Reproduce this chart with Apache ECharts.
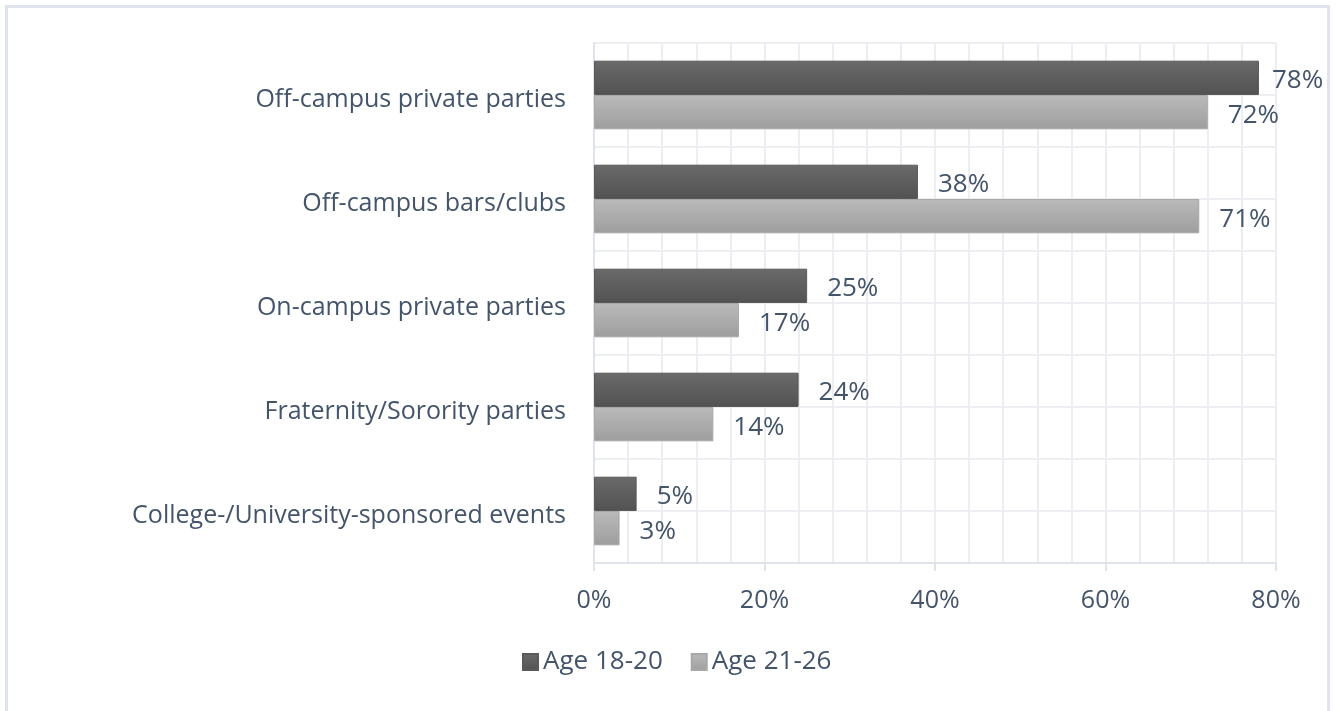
<!DOCTYPE html>
<html>
<head>
<meta charset="utf-8">
<script src="https://cdn.jsdelivr.net/npm/echarts@6/dist/echarts.min.js"></script>
<style>
html,body{margin:0;padding:0;background:#fff;}
#frame{position:absolute;left:5px;top:5px;width:1325px;height:720px;border:3px solid #dfe3ec;box-sizing:border-box;}
#chart{position:absolute;left:0;top:0;width:1336px;height:711px;}
</style>
</head>
<body>
<div id="frame"></div>
<div id="chart"></div>
<script>
const categories = [
  "Off-campus private parties",
  "Off-campus bars/clubs",
  "On-campus private parties",
  "Fraternity/Sorority parties",
  "College-/University-sponsored events"
];
const age1820 = [78, 38, 25, 24, 5];
const age2126 = [72, 71, 17, 14, 3];
const seriesNames = ["Age 18-20", "Age 21-26"];
const xTicks = [0, 20, 40, 60, 80];

const textColor = "#44546a";
const fontFamily = "'Open Sans', sans-serif";

const chart = echarts.init(document.getElementById('chart'), null, {renderer: 'canvas'});

function grad(c1, c2) {
  return new echarts.graphic.LinearGradient(0, 0, 0, 1, [
    {offset: 0, color: c1}, {offset: 1, color: c2}
  ]);
}

function makeData(arr) {
  return arr.map(v => {
    if (v >= 76) return {value: v, label: {distance: 13}};
    return v;
  });
}

chart.setOption({
  backgroundColor: 'transparent',
  animation: false,
  grid: {left: 594, right: 60, top: 43, bottom: 148, containLabel: false},
  legend: {
    top: 644,
    left: 517,
    itemWidth: 15,
    itemHeight: 16,
    itemGap: 28,
    icon: 'rect',
    textStyle: {color: textColor, fontSize: 26, fontFamily: fontFamily},
    data: seriesNames
  },
  xAxis: {
    type: 'value',
    min: xTicks[0],
    max: xTicks[xTicks.length - 1],
    interval: 20,
    axisLine: {show: true, lineStyle: {color: '#dfe3eb', width: 2}},
    axisTick: {show: true, length: 8, lineStyle: {color: '#dfe3eb', width: 2}},
    axisLabel: {formatter: '{value}%', color: textColor, fontSize: 25, fontFamily: fontFamily, margin: 25},
    splitLine: {show: true, lineStyle: {color: '#eceef2', width: 2}},
    minorTick: {show: false, splitNumber: 5},
    minorSplitLine: {show: true, lineStyle: {color: '#eceef2', width: 2}}
  },
  yAxis: [{
    type: 'category',
    data: categories,
    inverse: true,
    axisLine: {show: true, lineStyle: {color: '#dfe3eb', width: 2}},
    axisTick: {show: false},
    axisLabel: {color: textColor, fontSize: 25, fontFamily: fontFamily, margin: 28, verticalAlign: 'top', lineHeight: 10},
    splitLine: {show: false}
  }, {
    type: 'value',
    min: 0,
    max: 10,
    interval: 1,
    position: 'right',
    axisLine: {show: false},
    axisTick: {show: false},
    axisLabel: {show: false},
    splitLine: {show: true, lineStyle: {color: '#eceef2', width: 2}}
  }],
  series: [{
    name: seriesNames[0],
    type: 'bar',
    yAxisIndex: 0,
    barGap: '0%',
    barCategoryGap: '34%',
    itemStyle: {color: grad('#6a6a6a', '#525252'), borderColor: '#5a5a5a', borderWidth: 1},
    label: {show: true, position: 'right', distance: 20, offset: [0, 3], formatter: '{c}%', color: textColor, fontSize: 26, fontFamily: fontFamily},
    data: makeData(age1820)
  }, {
    name: seriesNames[1],
    type: 'bar',
    yAxisIndex: 0,
    barGap: '0%',
    barCategoryGap: '34%',
    itemStyle: {color: grad('#bababa', '#9e9e9e'), borderColor: '#a8a8a8', borderWidth: 1},
    label: {show: true, position: 'right', distance: 20, offset: [0, 3], formatter: '{c}%', color: textColor, fontSize: 26, fontFamily: fontFamily},
    data: makeData(age2126)
  }]
});
</script>
</body>
</html>
